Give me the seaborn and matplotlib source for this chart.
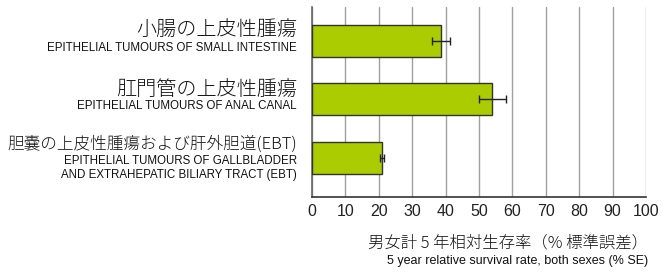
import matplotlib
matplotlib.use("Agg")
import matplotlib.pyplot as plt
from matplotlib import font_manager
import pandas as pd
import seaborn as sns

# data
labels_jp = ["小腸の上皮性腫瘍", "肛門管の上皮性腫瘍", "胆嚢の上皮性腫瘍および肝外胆道(EBT)"]
labels_en = ["EPITHELIAL TUMOURS OF SMALL INTESTINE",
             "EPITHELIAL TUMOURS OF ANAL CANAL",
             "EPITHELIAL TUMOURS OF GALLBLADDER\nAND EXTRAHEPATIC BILIARY TRACT (EBT)"]
survival = [38.6, 54.0, 21.0]
se = [2.6, 4.1, 0.7]
xticks = [0, 10, 20, 30, 40, 50, 60, 70, 80, 90, 100]

names = [f.name for f in font_manager.fontManager.ttflist]
narrow = "Liberation Sans Narrow" if "Liberation Sans Narrow" in names else "Liberation Sans"
jp = ["Noto Sans CJK JP", "DejaVu Sans"]

sns.set_style("white")
plt.rcParams["font.family"] = ["Liberation Sans", "DejaVu Sans"]

df = pd.DataFrame({"cat": labels_jp, "val": survival})

fig = plt.figure(figsize=(6.62, 2.75), dpi=100)
ax = fig.add_axes([0.4713, 0.2836, 0.5045, 0.6909])

sns.barplot(data=df, y="cat", x="val", orient="h", color="#aacc00",
            saturation=1, width=0.55, edgecolor="#333333", linewidth=1,
            ax=ax, zorder=3)
ax.errorbar(survival, range(len(survival)), xerr=se, fmt="none",
            ecolor="#222222", elinewidth=1, capsize=3, capthick=1, zorder=4)

ax.set_xlim(0, 100)
ax.set_ylim(2.67, -0.58)
ax.set_xticks(xticks)
ax.set_xticklabels([str(t) for t in xticks], fontsize=11.5, color="#222222")
ax.set_yticks([])
ax.set_xlabel("")
ax.set_ylabel("")
ax.tick_params(axis="x", length=0, pad=5)
ax.grid(axis="x", color="#a0a0a0", linewidth=1, zorder=0)
ax.grid(axis="y", visible=False)
for s in ["top", "right"]:
    ax.spines[s].set_visible(False)
ax.spines["left"].set_color("#666666")
ax.spines["bottom"].set_color("#333333")
ax.spines["left"].set_linewidth(1.2)
ax.spines["bottom"].set_linewidth(1.2)

# category labels
jp_sizes = [14.5, 14.5, 12]
jp_off = [10, 10, 14]
en_off = [-7, -7, -10]
for i in range(len(labels_jp)):
    ax.annotate(labels_jp[i], xy=(0, i), xycoords=("axes fraction", "data"),
                xytext=(-15, jp_off[i]), textcoords="offset pixels",
                ha="right", va="center", fontsize=jp_sizes[i], family=jp,
                weight="light", color="#111111")
    ax.annotate(labels_en[i], xy=(0, i), xycoords=("axes fraction", "data"),
                xytext=(-15, en_off[i]), textcoords="offset pixels",
                ha="right", va="center", fontsize=8.3, family=narrow,
                color="#111111", linespacing=1.15, multialignment="right")

# axis title
fig.text(648 / 662, 1 - 243 / 275, "男女計 5 年相対生存率（% 標準誤差）",
         ha="right", va="center", fontsize=11.8, family=jp, weight="light",
         color="#111111")
fig.text(648 / 662, 1 - 261 / 275, "5 year relative survival rate, both sexes (% SE)",
         ha="right", va="center", fontsize=9, family=narrow, color="#111111")

fig.savefig("out.png", dpi=100)
